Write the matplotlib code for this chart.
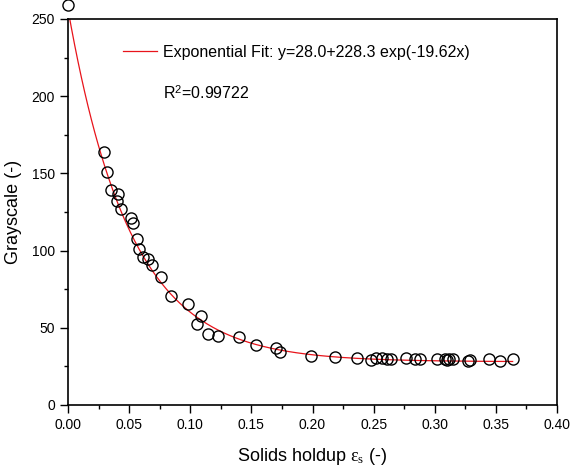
import numpy as np
import matplotlib
matplotlib.use("Agg")
import matplotlib.pyplot as plt
from matplotlib.ticker import MultipleLocator, FuncFormatter

plt.rcParams['font.family'] = ['Liberation Sans', 'DejaVu Sans']
plt.rcParams['mathtext.fontset'] = 'custom'
plt.rcParams['mathtext.rm'] = 'Liberation Serif'
plt.rcParams['mathtext.it'] = 'Liberation Serif:italic'

holdup = [0.0, 0.0294, 0.0316, 0.0349, 0.0403, 0.0412, 0.0431, 0.0513, 0.0529, 0.0562,
          0.0583, 0.0611, 0.0657, 0.0684, 0.0761, 0.084, 0.0979, 0.1058, 0.1085, 0.1148,
          0.123, 0.1399, 0.1538, 0.170, 0.1734, 0.199, 0.218, 0.236, 0.248, 0.252,
          0.2566, 0.261, 0.264, 0.2765, 0.2838, 0.288, 0.302, 0.308, 0.310, 0.312,
          0.315, 0.3275, 0.329, 0.344, 0.3534, 0.3637]
grayscale = [259, 164, 151, 139, 132, 136.7, 127, 121, 118, 107.5,
             101, 96, 94.6, 90.7, 83, 70.8, 65.4, 52.3, 57.6, 46,
             44.9, 44.2, 38.9, 37.1, 34.5, 31.5, 30.9, 30.6, 29.4, 30.2,
             30.2, 29.6, 29.6, 30.2, 29.6, 29.6, 29.8, 30.0, 29.0, 29.6,
             29.6, 28.5, 29.0, 29.8, 28.5, 29.6]

fit_a, fit_b, fit_k = 28.0, 228.3, -19.62

fig = plt.figure(figsize=(5.77, 4.72), dpi=100)
ax = fig.add_axes([68/577, 1-405/472, 489/577, 386/472])

xs = np.linspace(0, 0.3637, 400)
ax.plot(xs, fit_a + fit_b*np.exp(fit_k*xs), color='#e8141b', lw=0.9,
        label='Exponential Fit: y=28.0+228.3 exp(-19.62x)', zorder=2)
ax.plot(holdup, grayscale, 'o', mfc='none', mec='black', mew=1.0, ms=8,
        zorder=3, clip_on=False)

ax.set_xlim(0, 0.40)
ax.set_ylim(0, 250)
ax.xaxis.set_major_locator(MultipleLocator(0.05))
ax.xaxis.set_minor_locator(MultipleLocator(0.025))
ax.yaxis.set_major_locator(MultipleLocator(50))
ax.yaxis.set_minor_locator(MultipleLocator(25))
ax.xaxis.set_major_formatter(FuncFormatter(lambda v, p: f'{v:.2f}'))
ax.tick_params(which='major', direction='out', length=6, width=1, labelsize=10, top=False, right=False)
ax.tick_params(which='minor', direction='out', length=3, width=1, top=False, right=False)
for s in ax.spines.values():
    s.set_linewidth(1.2)

ax.set_xlabel(r'Solids holdup $\mathrm{\varepsilon}_{\mathrm{s}}$ (-)', fontsize=13, labelpad=10)
ax.set_ylabel('Grayscale (-)', fontsize=13, labelpad=7)

leg = ax.legend(loc='center left', bbox_to_anchor=((123-68)/489, (405-52)/386), frameon=False,
                fontsize=11.5, handlelength=2.1, handletextpad=0.4, borderpad=0, borderaxespad=0)
ax.text((163-68)/489, (405-93)/386, r'R$^{\mathregular{2}}$=0.99722', transform=ax.transAxes,
        fontsize=11.5, va='center', ha='left')

fig.savefig('out.png', dpi=100)
